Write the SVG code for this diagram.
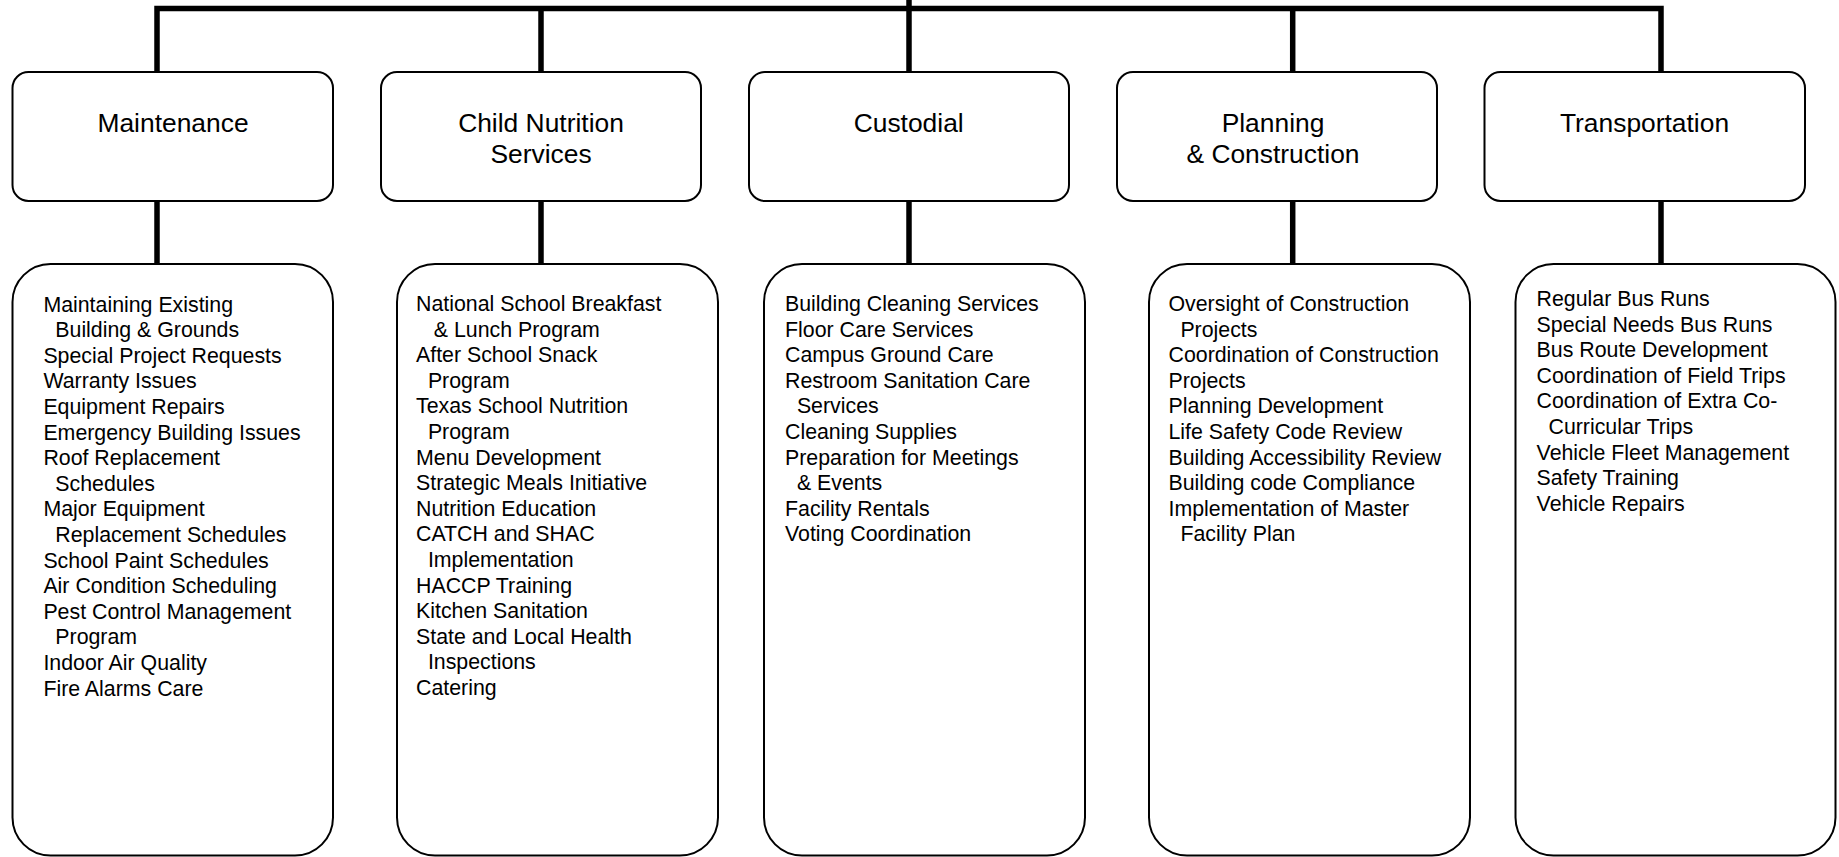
<svg xmlns="http://www.w3.org/2000/svg" width="1839" height="857" viewBox="0 0 1839 857">
<style>
.hdr{fill:#fff;stroke:#000;stroke-width:2}
.lst{fill:#fff;stroke:#000;stroke-width:2}
.conn{fill:none;stroke:#000;stroke-width:5.5;stroke-linejoin:miter}
.ht{font-family:"Liberation Sans",Arial,sans-serif;font-size:26.4px;fill:#000;text-anchor:middle}
.lt{font-family:"Liberation Sans",Arial,sans-serif;font-size:21.33px;fill:#000}
</style>
<rect width="1839" height="857" fill="#fff"/>
<g id="connectors">
<path class="conn" d="M157,72 V8.5 H1661 V72"/>
<path class="conn" d="M541,8.5 V72"/>
<path class="conn" d="M909,0 V72"/>
<path class="conn" d="M1292.7,8.5 V72"/>
<path class="conn" d="M157,201 V264"/>
<path class="conn" d="M541,201 V264"/>
<path class="conn" d="M909,201 V264"/>
<path class="conn" d="M1292.7,201 V264"/>
<path class="conn" d="M1661,201 V264"/>
</g>
<g id="maintenance">
<rect class="hdr" x="12.5" y="72" width="320.5" height="129" rx="16"/>
<text class="ht" x="173" y="131.7">Maintenance</text>
</g>
<g id="child-nutrition">
<rect class="hdr" x="381" y="72" width="320" height="129" rx="16"/>
<text class="ht" x="541" y="131.7">Child Nutrition</text>
<text class="ht" x="541" y="163.3">Services</text>
</g>
<g id="custodial">
<rect class="hdr" x="749" y="72" width="320" height="129" rx="16"/>
<text class="ht" x="908.7" y="131.7">Custodial</text>
</g>
<g id="planning">
<rect class="hdr" x="1117" y="72" width="320" height="129" rx="16"/>
<text class="ht" x="1273" y="131.7">Planning</text>
<text class="ht" x="1273" y="163.3">&amp; Construction</text>
</g>
<g id="transportation">
<rect class="hdr" x="1484.5" y="72" width="320.5" height="129" rx="16"/>
<text class="ht" x="1644.5" y="131.7">Transportation</text>
</g>
<g id="maintenance-list">
<rect class="lst" x="12.5" y="264" width="320.5" height="591.5" rx="38"/>
<text class="lt" x="43.4" y="311.5">Maintaining Existing</text>
<text class="lt" x="55.3" y="337.1">Building &amp; Grounds</text>
<text class="lt" x="43.4" y="362.7">Special Project Requests</text>
<text class="lt" x="43.4" y="388.3">Warranty Issues</text>
<text class="lt" x="43.4" y="413.9">Equipment Repairs</text>
<text class="lt" x="43.4" y="439.5">Emergency Building Issues</text>
<text class="lt" x="43.4" y="465.1">Roof Replacement</text>
<text class="lt" x="55.3" y="490.7">Schedules</text>
<text class="lt" x="43.4" y="516.3">Major Equipment</text>
<text class="lt" x="55.3" y="541.9">Replacement Schedules</text>
<text class="lt" x="43.4" y="567.5">School Paint Schedules</text>
<text class="lt" x="43.4" y="593.1">Air Condition Scheduling</text>
<text class="lt" x="43.4" y="618.7">Pest Control Management</text>
<text class="lt" x="55.3" y="644.3">Program</text>
<text class="lt" x="43.4" y="669.9">Indoor Air Quality</text>
<text class="lt" x="43.4" y="695.5">Fire Alarms Care</text>
</g>
<g id="child-nutrition-list">
<rect class="lst" x="397" y="264" width="321" height="591.5" rx="38"/>
<text class="lt" x="416" y="311">National School Breakfast</text>
<text class="lt" x="433.8" y="336.6">&amp; Lunch Program</text>
<text class="lt" x="416" y="362.2">After School Snack</text>
<text class="lt" x="427.9" y="387.8">Program</text>
<text class="lt" x="416" y="413.4">Texas School Nutrition</text>
<text class="lt" x="427.9" y="439">Program</text>
<text class="lt" x="416" y="464.6">Menu Development</text>
<text class="lt" x="416" y="490.2">Strategic Meals Initiative</text>
<text class="lt" x="416" y="515.8">Nutrition Education</text>
<text class="lt" x="416" y="541.4">CATCH and SHAC</text>
<text class="lt" x="427.9" y="567">Implementation</text>
<text class="lt" x="416" y="592.6">HACCP Training</text>
<text class="lt" x="416" y="618.2">Kitchen Sanitation</text>
<text class="lt" x="416" y="643.8">State and Local Health</text>
<text class="lt" x="427.9" y="669.4">Inspections</text>
<text class="lt" x="416" y="695">Catering</text>
</g>
<g id="custodial-list">
<rect class="lst" x="764" y="264" width="321" height="591.5" rx="38"/>
<text class="lt" x="785" y="311">Building Cleaning Services</text>
<text class="lt" x="785" y="336.6">Floor Care Services</text>
<text class="lt" x="785" y="362.2">Campus Ground Care</text>
<text class="lt" x="785" y="387.8">Restroom Sanitation Care</text>
<text class="lt" x="796.9" y="413.4">Services</text>
<text class="lt" x="785" y="439">Cleaning Supplies</text>
<text class="lt" x="785" y="464.6">Preparation for Meetings</text>
<text class="lt" x="796.9" y="490.2">&amp; Events</text>
<text class="lt" x="785" y="515.8">Facility Rentals</text>
<text class="lt" x="785" y="541.4">Voting Coordination</text>
</g>
<g id="planning-list">
<rect class="lst" x="1149" y="264" width="321" height="591.5" rx="38"/>
<text class="lt" x="1168.5" y="311">Oversight of Construction</text>
<text class="lt" x="1180.4" y="336.6">Projects</text>
<text class="lt" x="1168.5" y="362.2">Coordination of Construction</text>
<text class="lt" x="1168.5" y="387.8">Projects</text>
<text class="lt" x="1168.5" y="413.4">Planning Development</text>
<text class="lt" x="1168.5" y="439">Life Safety Code Review</text>
<text class="lt" x="1168.5" y="464.6">Building Accessibility Review</text>
<text class="lt" x="1168.5" y="490.2">Building code Compliance</text>
<text class="lt" x="1168.5" y="515.8">Implementation of Master</text>
<text class="lt" x="1180.4" y="541.4">Facility Plan</text>
</g>
<g id="transportation-list">
<rect class="lst" x="1515.5" y="264" width="320" height="591.5" rx="38"/>
<text class="lt" x="1536.6" y="306">Regular Bus Runs</text>
<text class="lt" x="1536.6" y="331.6">Special Needs Bus Runs</text>
<text class="lt" x="1536.6" y="357.2">Bus Route Development</text>
<text class="lt" x="1536.6" y="382.8">Coordination of Field Trips</text>
<text class="lt" x="1536.6" y="408.4">Coordination of Extra Co-</text>
<text class="lt" x="1548.5" y="434">Curricular Trips</text>
<text class="lt" x="1536.6" y="459.6">Vehicle Fleet Management</text>
<text class="lt" x="1536.6" y="485.2">Safety Training</text>
<text class="lt" x="1536.6" y="510.8">Vehicle Repairs</text>
</g>
</svg>
